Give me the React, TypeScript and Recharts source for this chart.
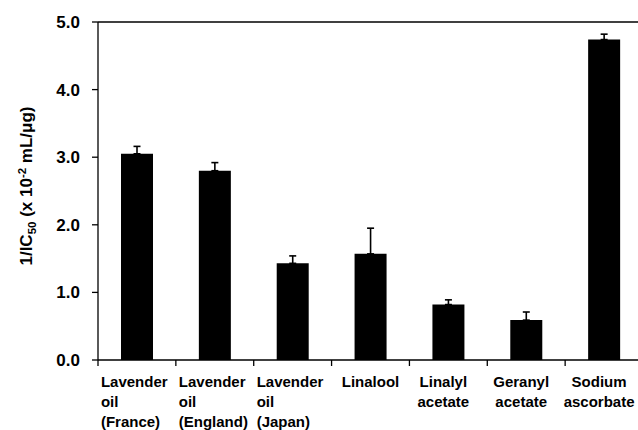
import React from 'react'
import { BarChart, Bar, XAxis, YAxis, ErrorBar, ReferenceLine } from 'recharts'

const categories = ['Lavender oil (France)', 'Lavender oil (England)', 'Lavender oil (Japan)', 'Linalool', 'Linalyl acetate', 'Geranyl acetate', 'Sodium ascorbate']
const tickLines = [
  ['Lavender', 'oil', '(France)'],
  ['Lavender', 'oil', '(England)'],
  ['Lavender', 'oil', '(Japan)'],
  ['Linalool'],
  ['Linalyl', 'acetate'],
  ['Geranyl', 'acetate'],
  ['Sodium', 'ascorbate'],
]
const values = [3.05, 2.80, 1.43, 1.57, 0.82, 0.59, 4.74]
const errors = [0.11, 0.12, 0.11, 0.38, 0.07, 0.12, 0.08]
const yTicks = [0, 1, 2, 3, 4, 5]

const data = categories.map((name, i) => ({ name, value: values[i], err: [0, errors[i]] }))

const FONT = '"Liberation Sans", Arial, sans-serif'
const PLOT_W = 545
const band = PLOT_W / categories.length

const XTick = (props: any) => {
  const { x, y, payload } = props
  const idx = categories.indexOf(payload.value)
  const lines = tickLines[idx] || []
  const leftAligned = lines.length === 3
  const tx = leftAligned ? x - 36 : lines.length === 2 ? x - 5 : x
  return (
    <g>
      <line x1={x - band / 2} x2={x - band / 2} y1={y - 6} y2={y} stroke="#000" strokeWidth={1.3} />
      <text
        x={tx}
        y={y + 21}
        textAnchor={leftAligned ? 'start' : 'middle'}
        fontFamily={FONT}
        fontWeight="bold"
        fontSize={15}
        fill="#000"
      >
        {lines.map((l, i) => (
          <tspan key={i} x={tx} dy={i === 0 ? 0 : 20}>{l}</tspan>
        ))}
      </text>
    </g>
  )
}

const YLabel = () => (
  <text
    transform="translate(32, 186) rotate(-90)"
    textAnchor="middle"
    fontFamily={FONT}
    fontWeight="bold"
    fontSize={17}
    fill="#000"
  >
    1/IC
    <tspan fontSize={11.5} dy={4}>50</tspan>
    <tspan dy={-4}> (x 10</tspan>
    <tspan fontSize={11.5} dy={-6}>-2</tspan>
    <tspan dy={6}> mL/μg)</tspan>
  </text>
)

const App = () => {
  return (
    <div style={{ position: 'fixed', left: 0, top: 0, width: 638, height: 430, overflow: 'hidden', background: '#fff' }}>
      <BarChart
        width={670}
        height={430}
        data={data}
        margin={{ top: 22, right: 27, left: 0, bottom: 0 }}
        barSize={32}
      >
        <XAxis
          dataKey="name"
          interval={0}
          height={70}
          tickLine={false}
          tickSize={6}
          tickMargin={0}
          axisLine={{ stroke: '#000', strokeWidth: 1.3 }}
          tick={<XTick />}
        />
        <YAxis
          domain={[0, 5]}
          ticks={yTicks}
          width={98}
          interval={0}
          tickSize={6}
          tickMargin={12}
          tickFormatter={(t: number) => t.toFixed(1)}
          axisLine={{ stroke: '#000', strokeWidth: 1.3 }}
          tickLine={{ stroke: '#000', strokeWidth: 1.3 }}
          tick={{ fill: '#000', fontFamily: FONT, fontWeight: 'bold', fontSize: 17 }}
          label={<YLabel />}
        />
        <ReferenceLine y={5} stroke="#000" strokeWidth={1.3} />
        <Bar dataKey="value" fill="#000" isAnimationActive={false}>
          <ErrorBar dataKey="err" direction="y" width={3.5} stroke="#000" strokeWidth={1.6} isAnimationActive={false} />
        </Bar>
      </BarChart>
    </div>
  )
}

export default App
